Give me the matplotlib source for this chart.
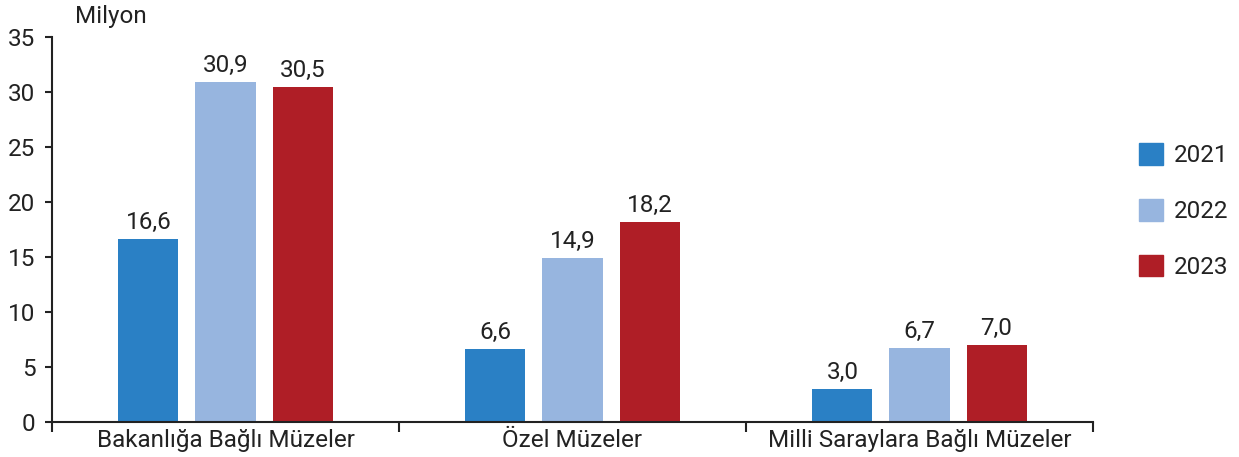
import numpy as np
import matplotlib
matplotlib.use("Agg")
import matplotlib.pyplot as plt
from matplotlib.patches import Patch

plt.rcParams['font.family'] = ['Roboto', 'DejaVu Sans']

# data
categories = ['Bakanlığa Bağlı Müzeler', 'Özel Müzeler', 'Milli Saraylara Bağlı Müzeler']
years = ['2021', '2022', '2023']
v2021 = [16.6, 6.6, 3.0]
v2022 = [30.9, 14.9, 6.7]
v2023 = [30.5, 18.2, 7.0]
colors = ['#2A80C5', '#97B5DF', '#AF1E26']
txt = '#222222'
fs = 17.5

fig = plt.figure(figsize=(12.39, 4.57), dpi=100)
ax = fig.add_axes([52/1239, 1-422/457, (1093-52)/1239, (422-37)/457])

x = np.arange(len(categories))
w = 0.173
off = 0.222
for i, (vals, c) in enumerate(zip([v2021, v2022, v2023], colors)):
    bars = ax.bar(x + (i-1)*off, vals, width=w, color=c, label=years[i])
    for b, v in zip(bars, vals):
        ax.text(b.get_x() + b.get_width()/2, v + 0.45, f"{v:.1f}".replace('.', ','),
                ha='center', va='bottom', fontsize=fs, color=txt)

ax.set_xlim(-0.5, 2.5)
ax.set_ylim(0, 35)
ax.set_yticks(range(0, 36, 5))
ax.set_xticks(x)
ax.set_xticklabels(categories)
ax.set_xticks([-0.5, 0.5, 1.5, 2.5], minor=True)
ax.tick_params(axis='x', which='major', length=0, labelsize=fs, colors=txt, pad=5)
ax.tick_params(axis='x', which='minor', length=7, width=1.5, color=txt, direction='out')
ax.tick_params(axis='y', length=5, width=1.5, labelsize=fs, colors=txt, pad=7)
for s in ['top', 'right']:
    ax.spines[s].set_visible(False)
for s in ['left', 'bottom']:
    ax.spines[s].set_linewidth(1.5)
    ax.spines[s].set_color(txt)

fig.text(75/1239, 1-16/457, 'Milyon', fontsize=fs, color=txt, va='center', ha='left')

handles = [Patch(color=c) for c in colors]
fig.legend(handles, years, loc='center left', bbox_to_anchor=(1117/1239, 1-211/457),
           frameon=False, fontsize=fs, handlelength=1.0, handleheight=1.0,
           labelspacing=1.3, handletextpad=0.45, labelcolor=txt)

fig.savefig('out.png', dpi=100)
